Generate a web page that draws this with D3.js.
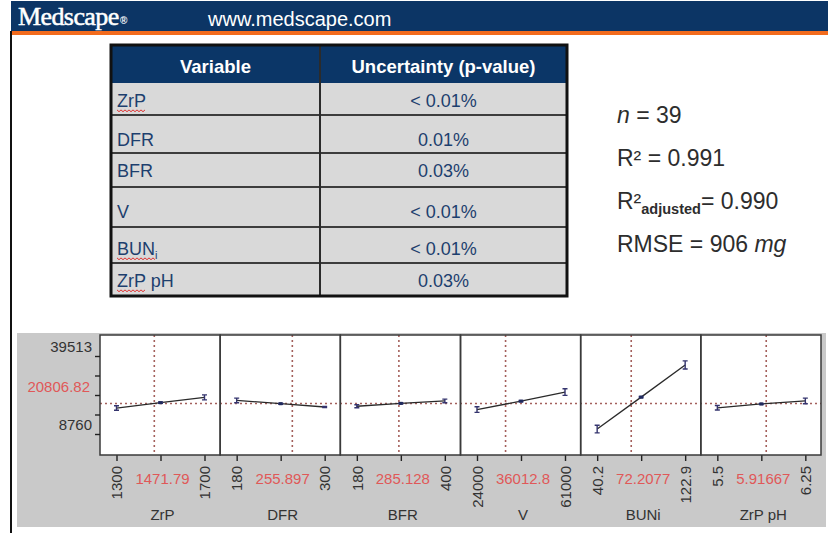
<!DOCTYPE html>
<html>
<head>
<meta charset="utf-8">
<script src="https://cdn.jsdelivr.net/npm/d3@7"></script>
<style>
  body { margin: 0; background: #fff; }
  svg { display: block; font-family: Arial, "Liberation Sans", sans-serif; }
</style>
</head>
<body>
<svg id="chart" width="828" height="533"></svg>
<script>
// ---- Model terms and significance ----
const variables = ["ZrP", "DFR", "BFR", "V", "BUN", "ZrP pH"];
const variableSubs = ["", "", "", "", "i", ""];
const spellFlagged = ["ZrP", "", "", "", "BUN", "ZrP"];
const pValues = ["< 0.01%", "0.01%", "0.03%", "< 0.01%", "< 0.01%", "0.03%"];

// ---- Fit statistics ----
const statN = 39;
const statR2 = "0.991";
const statR2adj = "0.990";
const statRMSE = 906;

// ---- Prediction profiler ----
const factorNames = ["ZrP", "DFR", "BFR", "V", "BUNi", "ZrP pH"];
const factorMin = [1300, 180, 180, 24000, 40.2, 5.5];
const factorMax = [1700, 300, 400, 61000, 122.9, 6.25];
const factorCurrent = [1471.79, 255.897, 285.128, 36012.8, 72.2077, 5.91667];
// predicted response at factor minimum, midpoint and maximum
const predMin = [19000, 22000, 19700, 18400, 10700, 19100];
const predMid = [21100, 20700, 20850, 21700, 23300, 20600];
const predMax = [23200, 19400, 21800, 25300, 36000, 21800];
// confidence half-widths at the same three points
const ciMin = [900, 900, 600, 1100, 1500, 900];
const ciMid = [250, 250, 250, 250, 250, 250];
const ciMax = [1000, 250, 700, 1300, 1600, 1100];
// response axis
const responseMin = 8760;
const responseMax = 39513;
const responseCurrent = 20806.82;

const svg = d3.select("#chart");

// ---- Banner ----
svg.append("rect").attr("x", 11).attr("y", 1).attr("width", 817).attr("height", 30).attr("fill", "#0c3565");
svg.append("rect").attr("x", 11).attr("y", 31).attr("width", 817).attr("height", 4).attr("fill", "#f26b1d");
svg.append("rect").attr("x", 10).attr("y", 31).attr("width", 2).attr("height", 502).attr("fill", "#111");
svg.append("text").attr("x", 18).attr("y", 25)
  .attr("font-family", "'Liberation Serif', 'DejaVu Serif', serif")
  .attr("font-size", 26).attr("letter-spacing", -0.6).attr("fill", "#fff")
  .attr("stroke", "#fff").attr("stroke-width", 0.5)
  .text("Medscape");
svg.append("text").attr("x", 120).attr("y", 24)
  .attr("font-size", 10).attr("font-weight", "bold").attr("fill", "#fff").text("®");
svg.append("text").attr("x", 208).attr("y", 26)
  .attr("font-size", 20).attr("fill", "#fff").text("www.medscape.com");

// ---- Significance table ----
const tbl = { x0: 111, x1: 567, colSplit: 320, top: 45, head: 83 };
const rowEdges = [83, 115, 153, 187, 227, 263, 296];
const baseOffset = [24, 31, 24, 31, 28, 24];

const table = svg.append("g");
table.append("rect").attr("x", tbl.x0).attr("y", tbl.top)
  .attr("width", tbl.x1 - tbl.x0).attr("height", rowEdges[6] - tbl.top)
  .attr("fill", "#d9d9d9");
table.append("rect").attr("x", tbl.x0).attr("y", tbl.top)
  .attr("width", tbl.x1 - tbl.x0).attr("height", tbl.head - tbl.top)
  .attr("fill", "#0b3667");
table.append("text").attr("x", (tbl.x0 + tbl.colSplit) / 2).attr("y", 73)
  .attr("text-anchor", "middle").attr("font-size", 18.5).attr("font-weight", "bold")
  .attr("fill", "#fff").text("Variable");
table.append("text").attr("x", (tbl.colSplit + tbl.x1) / 2).attr("y", 73)
  .attr("text-anchor", "middle").attr("font-size", 18.5).attr("font-weight", "bold")
  .attr("fill", "#fff").text("Uncertainty (p-value)");

// row separators
table.selectAll("line.row").data(rowEdges.slice(1, 6)).join("line")
  .attr("class", "row")
  .attr("x1", tbl.x0).attr("x2", tbl.x1).attr("y1", d => d).attr("y2", d => d)
  .attr("stroke", "#3d3d3d").attr("stroke-width", 2);
table.append("line").attr("x1", tbl.colSplit).attr("x2", tbl.colSplit)
  .attr("y1", tbl.top).attr("y2", rowEdges[6])
  .attr("stroke", "#2b2b2b").attr("stroke-width", 2);

const rows = table.selectAll("g.trow").data(variables).join("g").attr("class", "trow");
rows.each(function (name, i) {
  const g = d3.select(this);
  const base = rowEdges[i] + baseOffset[i];
  const t = g.append("text").attr("x", 117).attr("y", base)
    .attr("font-size", 18).attr("fill", "#1d3f6e").text(name);
  if (variableSubs[i]) {
    t.append("tspan").attr("font-size", 11).attr("dy", 4).text(variableSubs[i]);
  }
  if (spellFlagged[i]) {
    // wavy proofing underline
    const w = g.append("text").attr("font-size", 18).text(spellFlagged[i])
      .attr("visibility", "hidden").node().getComputedTextLength();
    const yy = base + 3.5;
    const pts = d3.range(0, Math.floor(w / 2) + 1).map(k => [117 + k * 2, yy + (k % 2 ? 1.2 : -0.6)]);
    g.append("path").attr("d", d3.line()(pts)).attr("fill", "none")
      .attr("stroke", "#e03030").attr("stroke-width", 1);
  }
  g.append("text").attr("x", (tbl.colSplit + tbl.x1) / 2).attr("y", base)
    .attr("text-anchor", "middle").attr("font-size", 18).attr("fill", "#1d3f6e")
    .text(pValues[i]);
});
table.append("rect").attr("x", tbl.x0).attr("y", tbl.top)
  .attr("width", tbl.x1 - tbl.x0).attr("height", rowEdges[6] - tbl.top)
  .attr("fill", "none").attr("stroke", "#111").attr("stroke-width", 3);

// ---- Fit statistics ----
const stats = svg.append("g").attr("font-size", 23).attr("fill", "#2d2d2d");
const s1 = stats.append("text").attr("x", 617).attr("y", 123);
s1.append("tspan").attr("font-style", "italic").text("n");
s1.append("tspan").text(" = " + statN);
stats.append("text").attr("x", 617).attr("y", 166).text("R² = " + statR2);
const s3 = stats.append("text").attr("x", 617).attr("y", 209);
s3.append("tspan").text("R²");
s3.append("tspan").attr("font-size", 14.5).attr("font-weight", "bold").attr("dy", 5).text("adjusted");
s3.append("tspan").attr("dy", -5).text("= " + statR2adj);
const s4 = stats.append("text").attr("x", 617).attr("y", 252);
s4.append("tspan").text("RMSE = " + statRMSE + " ");
s4.append("tspan").attr("font-style", "italic").text("mg");

// ---- Prediction profiler ----
const prof = svg.append("g");
prof.append("rect").attr("x", 17).attr("y", 333).attr("width", 809).attr("height", 194).attr("fill", "#c9c9c9");

const panelTop = 335, panelBottom = 455;
const band = d3.scaleBand().domain(factorNames).range([100, 821]);
const y = d3.scaleLinear().domain([responseMin, responseMax]).range([434, 356]);
const refColor = "#a4605c";

// panels
factorNames.forEach((name, i) => {
  prof.append("rect").attr("x", band(name)).attr("y", panelTop)
    .attr("width", band.bandwidth()).attr("height", panelBottom - panelTop)
    .attr("fill", "#fff");
});

// response reference line
prof.append("line").attr("x1", 100).attr("x2", 821)
  .attr("y1", y(responseCurrent)).attr("y2", y(responseCurrent))
  .attr("stroke", refColor).attr("stroke-width", 1.6).attr("stroke-dasharray", "2,3");

factorNames.forEach((name, i) => {
  const left = band(name);
  const x = d3.scaleLinear().domain([factorMin[i], factorMax[i]]).range([left + 16.5, left + 104.5]);
  const mid = (factorMin[i] + factorMax[i]) / 2;
  const g = prof.append("g");

  // current factor setting
  g.append("line").attr("x1", x(factorCurrent[i])).attr("x2", x(factorCurrent[i]))
    .attr("y1", panelTop).attr("y2", panelBottom)
    .attr("stroke", refColor).attr("stroke-width", 1.6).attr("stroke-dasharray", "2,3");

  // profile trace
  const pts = [
    { f: factorMin[i], p: predMin[i], c: ciMin[i] },
    { f: mid, p: predMid[i], c: ciMid[i] },
    { f: factorMax[i], p: predMax[i], c: ciMax[i] }
  ];
  g.append("path").attr("d", d3.line().x(d => x(d.f)).y(d => y(d.p))(pts))
    .attr("fill", "none").attr("stroke", "#2a2a2a").attr("stroke-width", 1.3);

  // confidence bars
  pts.forEach(d => {
    const cx = x(d.f), y1 = y(d.p - d.c), y2 = y(d.p + d.c);
    const path = `M${cx},${y1}V${y2}M${cx - 2.5},${y1}H${cx + 2.5}M${cx - 2.5},${y2}H${cx + 2.5}`;
    g.append("path").attr("d", path).attr("fill", "none")
      .attr("stroke", "#34346e").attr("stroke-width", 1.4);
  });
  g.append("rect").attr("x", x(mid) - 1.8).attr("y", y(predMid[i]) - 1.5)
    .attr("width", 3.6).attr("height", 3).attr("fill", "#1f2a5c");

  // factor axis
  const ax = g.append("g").attr("transform", `translate(0,${panelBottom})`)
    .call(d3.axisBottom(x).tickValues([factorMin[i], mid, factorMax[i]]).tickSize(6)
      .tickFormat((d, j) => j === 1 ? "" : String(d)));
  ax.select(".domain").remove();
  ax.selectAll("line").attr("stroke", "#222").attr("stroke-width", 1.4);
  ax.selectAll("text")
    .attr("transform", "rotate(-90)")
    .attr("x", -11).attr("y", 0).attr("dy", "0.35em")
    .attr("text-anchor", "end")
    .attr("font-size", 15).attr("font-family", "Arial, 'Liberation Sans', sans-serif")
    .attr("fill", "#333");

  // current setting label and factor name
  g.append("text").attr("x", x(mid) + 2).attr("y", 484).attr("text-anchor", "middle")
    .attr("font-size", 15).attr("fill", "#e05858").text(String(factorCurrent[i]));
  g.append("text").attr("x", x(mid) + 2).attr("y", 520).attr("text-anchor", "middle")
    .attr("font-size", 15).attr("fill", "#333").text(name);
});

// panel frames
factorNames.forEach(name => {
  prof.append("rect").attr("x", band(name)).attr("y", panelTop)
    .attr("width", band.bandwidth()).attr("height", panelBottom - panelTop)
    .attr("fill", "none").attr("stroke", "#3a3a3a").attr("stroke-width", 1.5);
});

// response axis
const yTicks = d3.range(5).map(k => responseMin + k * (responseMax - responseMin) / 4);
const yAx = prof.append("g").attr("transform", "translate(100,0)")
  .call(d3.axisLeft(y).tickValues(yTicks).tickSize(5)
    .tickFormat(d => (d === responseMin || d === responseMax) ? String(d) : ""));
yAx.select(".domain").remove();
yAx.selectAll("line").attr("stroke", "#222").attr("stroke-width", 1.4);
yAx.selectAll("text").attr("transform", "translate(0,-9)")
  .attr("font-size", 15).attr("font-family", "Arial, 'Liberation Sans', sans-serif")
  .attr("fill", "#333");
prof.append("text").attr("x", 90).attr("y", y(responseCurrent) - 17).attr("dy", "0.35em")
  .attr("text-anchor", "end").attr("font-size", 15).attr("fill", "#e05858")
  .text(responseCurrent.toFixed(2));
</script>
</body>
</html>
